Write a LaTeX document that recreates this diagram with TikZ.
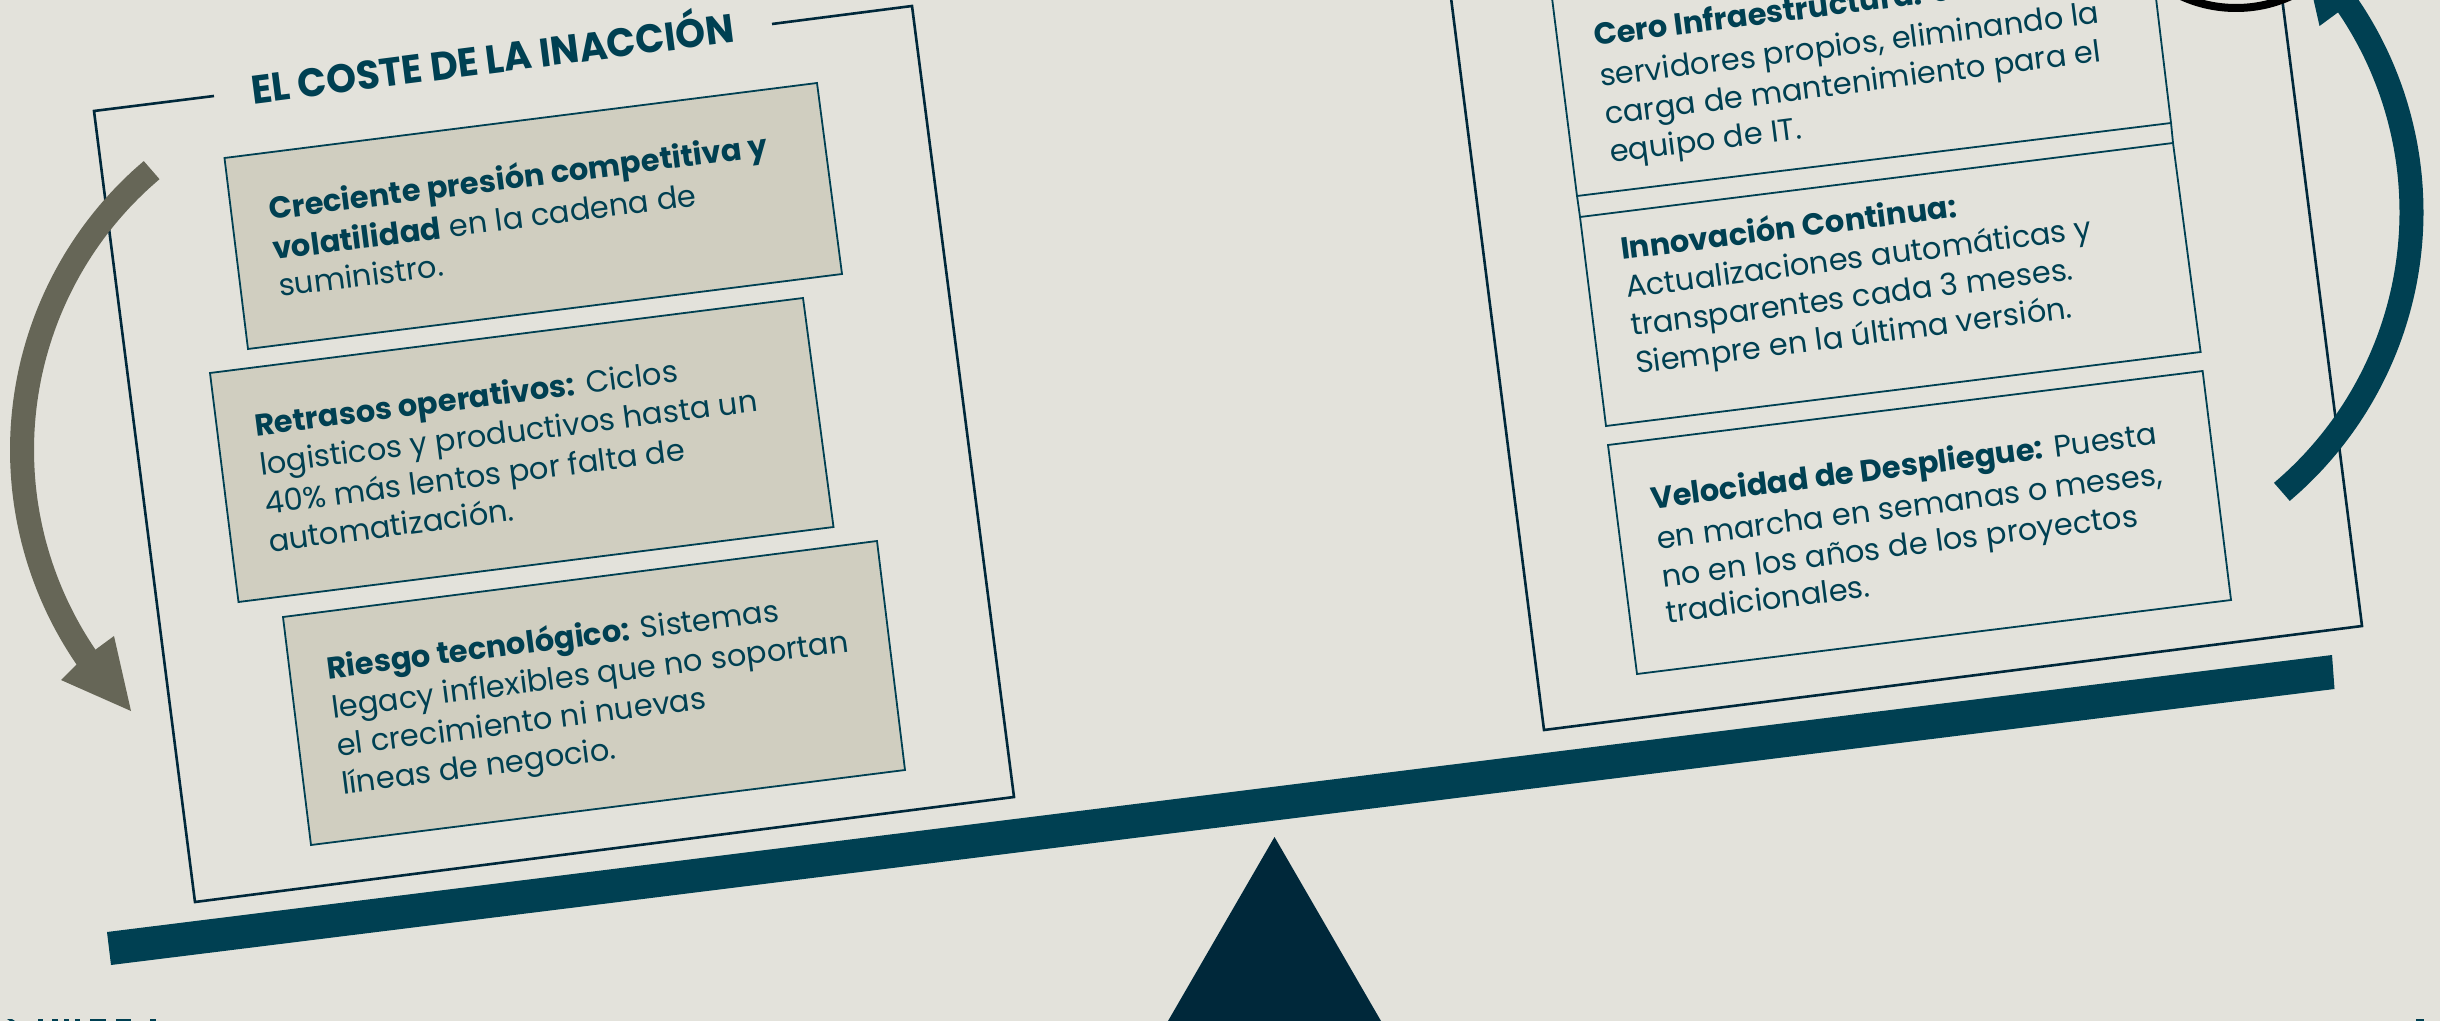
\documentclass[tikz,border=0pt]{standalone}
\usepackage{fontspec}
\setmainfont{Poppins}[BoldFont={Poppins Bold}]
\newfontfamily\titlefont{Poppins Bold}[FakeStretch=0.95]
\usetikzlibrary{calc}
\definecolor{bgc}{HTML}{E3E2DB}
\definecolor{teal}{HTML}{004052}
\definecolor{ink}{HTML}{00283A}
\definecolor{boxc}{HTML}{D0CEC0}
\definecolor{greyc}{HTML}{666657}
\tikzset{
  frame/.style={draw=ink,line width=1.3pt,line join=miter},
  card/.style={draw=teal,line width=.9pt,line join=miter},
  filled/.style={card,fill=boxc},
  body/.style={rotate=7.3,anchor=base west,inner sep=0pt,outer sep=0pt,text=teal,font=\fontsize{15.25}{15.25}\selectfont},
  head/.style={rotate=7.3,inner sep=0pt,outer sep=0pt,text=teal,font=\fontsize{20}{20}\titlefont},
  swing/.style={line width=12pt,line cap=butt}
}
\begin{document}
\begin{tikzpicture}[x=0.5pt,y=-0.5pt]
\useasboundingbox (0,0) rectangle (2440,1021);
\clip (0,0) rectangle (2440,1021);
\fill[bgc] (0,0) rectangle (2440,1021);
% beam and fulcrum
\fill[teal] (107,932) -- (2332,655) -- (2334.5,689) -- (111,965) -- cycle;
\fill[ink] (1274.5,837) -- (1381,1021) -- (1168,1021) -- cycle;
% left frame
\coordinate (fa) at (214,96); \coordinate (fb) at (94,111); \coordinate (fc) at (195,902);
\coordinate (fd) at (1014,797); \coordinate (fe) at (912,6); \coordinate (ff) at (772,24);
\draw[frame] (fa) -- (fb) -- (fc) -- (fd) -- (fe) -- (ff);
\node[head] (title) at (492,54) {EL COSTE DE LA INACCIÓN};
% left cards
\draw[filled] (224.5,158) -- (817,83) -- (842,274) -- (248,349) -- cycle;
\draw[filled] (210,373) -- (803,298) -- (833.5,527) -- (238.5,602) -- cycle;
\draw[filled] (283,617) -- (877,541) -- (905,770) -- (311,845) -- cycle;
\node[body] (l1a) at (270,220) {\textbf{Creciente presión competitiva y}};
\node[body] (l1b) at (274,260) {\textbf{volatilidad} en la cadena de};
\node[body] (l1c) at (280,297) {suministro.};
\node[body] (l2a) at (256,436) {\textbf{Retrasos operativos:} Ciclos};
\node[body] (l2b) at (261,475) {logisticos y productivos hasta un};
\node[body] (l2c) at (266,514) {40\% más lentos por falta de};
\node[body] (l2d) at (270,552) {automatización.};
\node[body] (l3a) at (328,679) {\textbf{Riesgo tecnológico:} Sistemas};
\node[body] (l3b) at (333,718) {legacy inflexibles que no soportan};
\node[body] (l3c) at (338,756) {el crecimiento ni nuevas};
\node[body] (l3d) at (343,794) {líneas de negocio.};
% right frame
\coordinate (ga) at (1450,-10); \coordinate (gb) at (1544,730);
\coordinate (gc) at (2362,626); \coordinate (gd) at (2281,-10);
\draw[frame] (ga) -- (gb) -- (gc) -- (gd);
% circle at the top
\draw[black,line width=4pt] (2236,-124) circle[radius=132];
% right cards
\draw[card] (1551,-10) -- (1577,196) -- (2171,123) -- (2155,-10);
\draw[card] (1577,196) -- (1580,217);
\draw[card] (2171,123) -- (2173,143);
\draw[card] (1580,217) -- (2173,143) -- (2200.6,352) -- (1606,426) -- cycle;
\draw[card] (1608,445) -- (2202.6,371) -- (2231,600) -- (1637,674) -- cycle;
\node[body] (r1a) at (1595,46) {\textbf{Cero Infraestructura:} Sin};
\node[body] (r1b) at (1601,87) {servidores propios, eliminando la};
\node[body] (r1c) at (1606,125) {carga de mantenimiento para el};
\node[body] (r1d) at (1611,163) {equipo de IT.};
\node[body] (r2a) at (1622,260) {\textbf{Innovación Continua:}};
\node[body] (r2b) at (1627,298) {Actualizaciones automáticas y};
\node[body] (r2c) at (1632,336) {transparentes cada 3 meses.};
\node[body] (r2d) at (1637,374) {Siempre en la última versión.};
\node[body] (r3a) at (1652,509) {\textbf{Velocidad de Despliegue:} Puesta};
\node[body] (r3b) at (1658,549) {en marcha en semanas o meses,};
\node[body] (r3c) at (1663,587) {no en los años de los proyectos};
\node[body] (r3d) at (1667,623) {tradicionales.};
% swing arrows
\draw[swing,greyc] plot[domain=229.7:143,samples=40,smooth] ({389+367*cos(\x)},{450+367*sin(\x)});
\fill[greyc] (114,636) -- (131,711) -- (61,680) -- (77,664) -- (95,650) -- cycle;
\begin{scope}[rotate around={180:(1216.75,331)}]
\draw[swing,teal] plot[domain=229.7:143,samples=40,smooth] ({389+367*cos(\x)},{450+367*sin(\x)});
\fill[teal] (114,636) -- (131,711) -- (61,680) -- (77,664) -- (95,650) -- cycle;
\end{scope}
% cut-off marks along the bottom edge
\fill[teal] (7,1019) -- (12,1019) -- (15,1021) -- (10,1021) -- cycle;
\foreach \a/\b in {38/43,52/58,64/69,75/80,90/106,116/131,150/156,2416/2424}
  \fill[teal] (\a,1019) rectangle (\b,1021);
\end{tikzpicture}
\end{document}
